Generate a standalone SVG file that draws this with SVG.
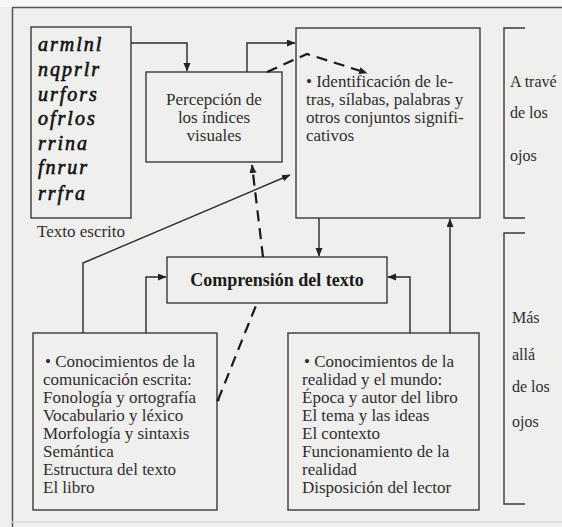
<svg xmlns="http://www.w3.org/2000/svg" width="562" height="527" viewBox="0 0 562 527">
<defs>
<marker id="ah" markerWidth="9" markerHeight="8" refX="8" refY="3.5" orient="auto" markerUnits="userSpaceOnUse">
<path d="M0,0 L8.5,3.5 L0,7 z" fill="#222"/>
</marker>
<style>
.box{fill:none;stroke:#3a3a3a;stroke-width:1.4}
.ln{fill:none;stroke:#2a2a2a;stroke-width:1.4}
.dash{fill:none;stroke:#1a1a1a;stroke-width:2.2;stroke-dasharray:11 7}
.t{font-family:"Liberation Serif","Times New Roman",serif;font-size:17px;fill:#2e2e2e}
.s{font-family:"Liberation Serif","Times New Roman",serif;font-size:16px;fill:#2e2e2e}
.b{font-family:"Liberation Serif","Times New Roman",serif;font-size:18px;font-weight:bold;fill:#1a1a1a}
.h{font-family:"Liberation Serif","DejaVu Serif",serif;font-style:italic;font-size:20px;letter-spacing:2px;fill:#111;stroke:#111;stroke-width:0.6}
</style>
</defs>
<rect x="0" y="0" width="562" height="527" fill="#efefed"/>
<rect x="0" y="0" width="562" height="7" fill="#f7f7f5"/>
<g id="frame">
<line x1="12" y1="7.5" x2="562" y2="7.5" stroke="#555" stroke-width="1.5"/>
<line x1="12.5" y1="7" x2="12.5" y2="527" stroke="#555" stroke-width="1.5"/>
<line x1="12" y1="522" x2="562" y2="522" stroke="#ddd" stroke-width="1.5"/>
</g>
<g id="texto-escrito">
<rect class="box" x="31" y="27" width="100" height="191"/>
<text class="h" x="38" y="51">armlnl</text>
<text class="h" x="38" y="76">nqprlr</text>
<text class="h" x="38" y="101">urfors</text>
<text class="h" x="38" y="125">ofrlos</text>
<text class="h" x="38" y="150">rrina</text>
<text class="h" x="38" y="174">fnrur</text>
<text class="h" x="38" y="200">rrfra</text>
<text class="t" x="37" y="237">Texto escrito</text>
</g>
<g id="percepcion">
<rect class="box" x="146" y="72" width="136" height="90"/>
<text class="t" text-anchor="middle" x="214" y="105">Percepción de</text>
<text class="t" text-anchor="middle" x="214" y="123">los índices</text>
<text class="t" text-anchor="middle" x="214" y="141">visuales</text>
</g>
<g id="identificacion">
<rect class="box" x="296" y="28" width="184" height="190"/>
<text class="t" x="306" y="87">• Identificación de le-</text>
<text class="t" x="306" y="105">tras, sílabas, palabras y</text>
<text class="t" x="306" y="123">otros conjuntos signifi-</text>
<text class="t" x="306" y="141">cativos</text>
</g>
<g id="a-traves">
<path class="box" d="M525,28 H504 V218 H525"/>
<text class="s" x="510" y="87">A travé</text>
<text class="s" x="510" y="118">de los</text>
<text class="s" x="510" y="161">ojos</text>
</g>
<g id="comprension">
<rect class="box" x="167" y="257" width="220" height="46"/>
<text class="b" text-anchor="middle" x="277" y="286">Comprensión del texto</text>
</g>
<g id="mas-alla">
<path class="box" d="M525,233 H504 V504 H525"/>
<text class="s" x="512" y="323">Más</text>
<text class="s" x="512" y="360">allá</text>
<text class="s" x="512" y="392">de los</text>
<text class="s" x="512" y="427">ojos</text>
</g>
<g id="conocimientos-comunicacion">
<rect class="box" x="33" y="333" width="184" height="177"/>
<text class="t" x="45" y="367">• Conocimientos de la</text>
<text class="t" x="43" y="385">comunicación escrita:</text>
<text class="t" x="43" y="403">Fonología y ortografía</text>
<text class="t" x="43" y="421">Vocabulario y léxico</text>
<text class="t" x="43" y="439">Morfología y sintaxis</text>
<text class="t" x="43" y="457">Semántica</text>
<text class="t" x="43" y="475">Estructura del texto</text>
<text class="t" x="43" y="493">El libro</text>
</g>
<g id="conocimientos-realidad">
<rect class="box" x="288" y="333" width="191" height="177"/>
<text class="t" x="304" y="367">• Conocimientos de la</text>
<text class="t" x="302" y="385">realidad y el mundo:</text>
<text class="t" x="302" y="403">Época y autor del libro</text>
<text class="t" x="302" y="421">El tema y las ideas</text>
<text class="t" x="302" y="439">El contexto</text>
<text class="t" x="302" y="457">Funcionamiento de la</text>
<text class="t" x="302" y="475">realidad</text>
<text class="t" x="302" y="493">Disposición del lector</text>
</g>
<g id="connectors">
<path class="ln" d="M131,43 H187 V71" marker-end="url(#ah)"/>
<path class="ln" d="M247,72 V43 H295" marker-end="url(#ah)"/>
<path class="ln" d="M83,333 V263 L290,175" marker-end="url(#ah)"/>
<path class="ln" d="M146,333 V277 H166" marker-end="url(#ah)"/>
<path class="ln" d="M410,333 V277 H388" marker-end="url(#ah)"/>
<path class="ln" d="M319,218 V256" marker-end="url(#ah)"/>
<path class="ln" d="M450,333 V219" marker-end="url(#ah)"/>
<path class="dash" d="M218,400 L257,303"/>
<path class="dash" d="M263,257 L252,165" marker-end="url(#ah)"/>
<path class="dash" d="M267,72 L307,54 L367,73" marker-end="url(#ah)"/>
<circle cx="218" cy="400" r="1.6" fill="#1a1a1a"/>
</g>
</svg>
